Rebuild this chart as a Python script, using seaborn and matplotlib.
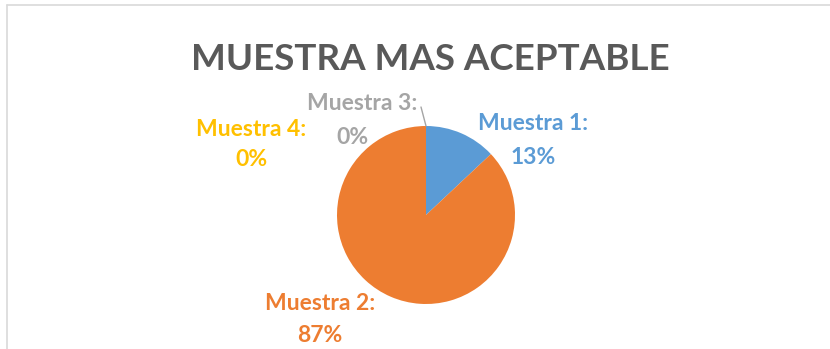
import matplotlib
matplotlib.use("Agg")
import matplotlib.pyplot as plt
import seaborn as sns

sns.set_theme(style="white")
plt.rcParams['font.family'] = ['Lato', 'DejaVu Sans']

categories = ["Muestra 1", "Muestra 2", "Muestra 3", "Muestra 4"]
values = [13, 87, 0, 0]
colors = ["#5B9BD5", "#ED7D31", "#A5A5A5", "#FFC000"]
title = "MUESTRA MAS ACEPTABLE"

W, H = 830, 349
fig = plt.figure(figsize=(W / 100, H / 100), dpi=100)
ax = fig.add_axes([0, 0, 1, 1])

cx, cy, r = 426, H - 215, 89
ax.pie(values, colors=colors, startangle=90, counterclock=False,
       center=(cx, cy), radius=r, wedgeprops=dict(linewidth=0))
ax.set_xlim(0, W)
ax.set_ylim(0, H)
ax.set_aspect("equal")
ax.axis("off")

# chart border (top and left edges)
ax.plot([7, W], [H - 5, H - 5], color="#D9D9D9", lw=1.2, clip_on=False)
ax.plot([7, 7], [H - 5, 0], color="#D9D9D9", lw=1.2, clip_on=False)

ax.text(430, H - 60, title, ha="center", va="center", fontsize=26.5,
        fontweight="bold", color="#595959")

# data labels: (x, y of first line, x, y of second line)
label_pos = [(533, 124, 533, 157), (320, 304, 320, 336),
             (362, 104, 352, 138), (251, 130, 251, 160)]
for name, v, c, (lx, ly, lx2, ly2) in zip(categories, values, colors, label_pos):
    ax.text(lx, H - ly, f"{name}:", ha="center", va="center", fontsize=16.5,
            fontweight="bold", color=c)
    ax.text(lx2, H - ly2, f"{v}%", ha="center", va="center", fontsize=16.5,
            fontweight="bold", color=c)

# leader line for the zero slice at the top
ax.plot([421, 426], [H - 107, H - 126], color="#A5A5A5", lw=1)

fig.savefig("out.png", dpi=100)
